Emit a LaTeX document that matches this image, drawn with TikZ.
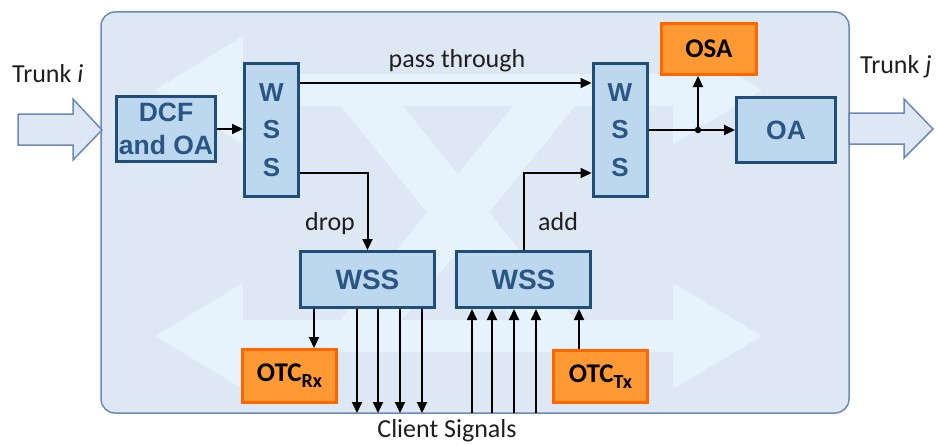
\documentclass[tikz,border=0pt]{standalone}
\usepackage{fontspec}
\setmainfont{Liberation Sans}
\newfontfamily\calfont{Carlito}
\usetikzlibrary{arrows.meta}

\definecolor{panelbg}{HTML}{DDE8F4}
\definecolor{panelline}{HTML}{6D89B8}
\definecolor{ghost}{HTML}{E6F2FC}
\definecolor{boxfill}{HTML}{BDD7EE}
\definecolor{boxline}{HTML}{1F4E79}
\definecolor{boxtext}{HTML}{2A5685}
\definecolor{otcfill}{HTML}{FF9933}
\definecolor{otcline}{HTML}{FF6600}

\newcommand\chansub[1]{\raisebox{-6pt}{\fontsize{20}{20}\selectfont #1}}

\tikzset{
  blk/.style={draw=boxline, line width=3pt, fill=boxfill, text=boxtext,
    inner sep=0pt, align=center, font=\fontsize{26.5}{33}\selectfont\bfseries},
  tall/.style={blk, minimum width=54pt, minimum height=133pt,
    font=\fontsize{26}{37.5}\selectfont\bfseries},
  wide/.style={blk, minimum width=134pt, minimum height=56pt,
    font=\fontsize{28}{33}\selectfont\bfseries},
  amp/.style={blk, minimum width=99pt, minimum height=65pt},
  mon/.style={draw=otcline, line width=3pt, fill=otcfill, text=black,
    inner sep=0pt, minimum width=95pt, minimum height=52pt,
    font=\calfont\fontsize{27}{30}\selectfont\bfseries},
  sig/.style={line width=2pt, -{Triangle[length=11pt,width=10pt]}},
  lbl/.style={inner sep=0pt, anchor=base west, text=black!88,
    font=\calfont\fontsize{26}{30}\selectfont},
  trunk/.style={draw=panelline, line width=1.5pt, fill=panelbg, line join=miter},
}

\begin{document}
\begin{tikzpicture}[x=1pt, y=-1pt]
\useasboundingbox (0,0) rectangle (936,444);

% node panel
\draw[panelline, line width=1.5pt, fill=panelbg, rounded corners=14pt]
  (101,12) rectangle (849,413);

% faint cross-connect emblem behind the blocks
\fill[ghost] (155,90) -- (243,36) -- (243,74) -- (673,74) -- (673,36) -- (762,90)
  -- (673,144) -- (673,106) -- (243,106) -- (243,144) -- cycle;
\fill[ghost] (155,336) -- (243,283) -- (243,320) -- (673,320) -- (673,283) -- (762,336)
  -- (673,389) -- (673,352) -- (243,352) -- (243,389) -- cycle;
\fill[ghost] (315,74) -- (377,74) -- (602,352) -- (540,352) -- cycle;
\fill[ghost] (601,74) -- (539,74) -- (314,352) -- (376,352) -- cycle;

% trunk arrows
\draw[trunk] (18,114) -- (73,114) -- (73,99) -- (102,130) -- (73,160) -- (73,145)
  -- (18,145) -- cycle;
\draw[trunk] (849,113) -- (904,113) -- (904,99) -- (933,129) -- (904,158) -- (904,144)
  -- (849,144) -- cycle;

% blocks
\node[amp]  (dcf)     at (166,129)     {DCF\\and OA};
\node[tall] (wssin)   at (271.5,130)   {W\\S\\S};
\node[tall] (wssout)  at (620,130)     {W\\S\\S};
\node[amp]  (oa)      at (786,130)     {OA};
\node[mon, minimum height=51pt] (osa) at (709,49) {OSA};
\node[wide] (wssdrop) at (367.5,279.5) {WSS};
\node[wide] (wssadd)  at (523.5,279.5) {WSS};
\node[mon, minimum width=94pt, minimum height=53pt] (otcrx) at (289.5,376) {OTC\chansub{Rx}};
\node[mon, minimum width=94pt, minimum height=52pt] (otctx) at (600.5,376.5) {OTC\chansub{Tx}};

% levels and taps
\coordinate (passlvl) at (0,83);
\coordinate (droplvl) at (0,173);
\coordinate (tap) at (698,130);
\coordinate (rxx) at (314,0);
\coordinate (txx) at (579,0);

% connectors
\draw[sig] (dcf.east) -- (dcf.east -| wssin.west);
\draw[sig] (wssin.east |- passlvl) -- (wssout.west |- passlvl);
\draw[sig] (wssin.east |- droplvl) -| (wssdrop.north);
\draw[sig] (wssadd.north) |- (wssout.west |- droplvl);
\draw[sig] (wssout.east) -- (oa.west);
\fill (tap) circle (3.2pt);
\draw[sig] (tap) -- (tap |- osa.south);
\draw[sig] (wssdrop.south -| rxx) -- (otcrx.north -| rxx);
\draw[sig] (otctx.north -| txx) -- (wssadd.south -| txx);
\foreach \x [count=\i] in {357,378,400,422} {
  \coordinate (dn\i) at (\x,413);
  \draw[sig] (wssdrop.south -| dn\i) -- (dn\i);
}
\foreach \x [count=\i] in {472,492,514,536} {
  \coordinate (up\i) at (\x,413);
  \draw[sig] (up\i) -- (wssadd.south -| up\i);
}

% labels
\node[lbl] (trunkin)  at (12,82)  {Trunk \textit{i}};
\node[lbl] (trunkout) at (860,74) {Trunk \textit{j}};
\node[lbl, anchor=base] (passlbl) at (457,67) {pass through};
\node[lbl] (droplbl) at (305,230) {drop};
\node[lbl] (addlbl)  at (538,230) {add};
\node[lbl, anchor=base] (client) at (447,437) {Client Signals};
\end{tikzpicture}
\end{document}
